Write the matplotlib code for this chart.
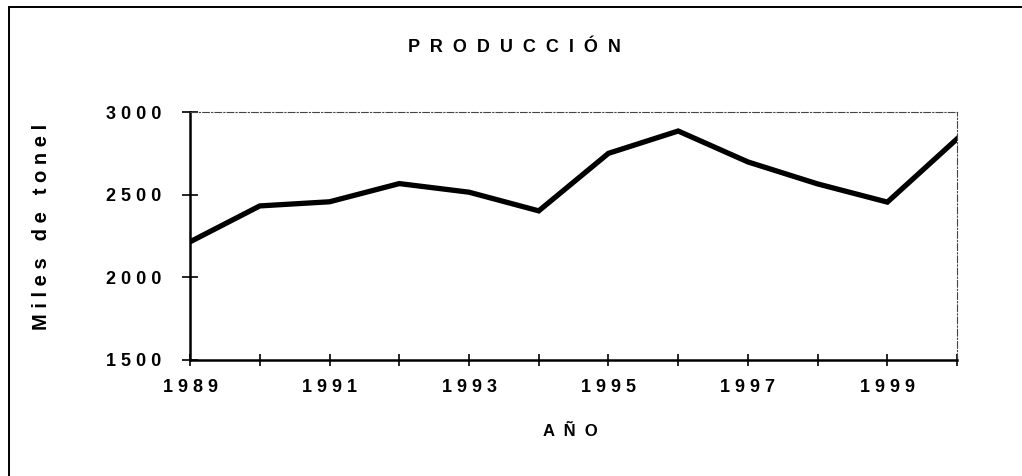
import matplotlib
matplotlib.use('Agg')
import matplotlib.pyplot as plt
from matplotlib.patches import Rectangle

# datos
anios = [1989, 1990, 1991, 1992, 1993, 1994, 1995, 1996, 1997, 1998, 1999, 2000]
produccion = [2215, 2432, 2457, 2567, 2515, 2402, 2750, 2885, 2698, 2565, 2455, 2838]
ticks_y = [1500, 2000, 2500, 3000]
etiquetas_x = [1989, 1991, 1993, 1995, 1997, 1999]


def espaciar(texto, sep=' ', sep_palabra='  '):
    # separa letras como en el original
    palabras = texto.split(' ')
    return sep_palabra.join(sep.join(list(p)) for p in palabras)


plt.rcParams['font.family'] = ['Liberation Sans', 'DejaVu Sans']

fig = plt.figure(figsize=(10.22, 4.76), dpi=100)
ax = fig.add_axes([0.186, 0.2437, 0.7505, 0.521])

ax.plot(anios, produccion, color='black', linewidth=3.8, solid_joinstyle='miter')

ax.set_xlim(1989, 2000)
ax.set_ylim(1500, 3000)
ax.set_yticks(ticks_y)
ax.set_yticklabels([espaciar(str(v)) for v in ticks_y], fontsize=13, fontweight='bold')
ax.set_xticks(anios)
ax.set_xticklabels([espaciar(str(a)) if a in etiquetas_x else '' for a in anios],
                   fontsize=13, fontweight='bold')
ax.tick_params(axis='x', direction='inout', length=9, width=1.2, color='black', pad=9)
ax.tick_params(axis='y', direction='inout', length=12, width=1.2, color='black', pad=15)

for lado in ['left', 'bottom']:
    ax.spines[lado].set_linewidth(1.8)
for lado in ['top', 'right']:
    ax.spines[lado].set_linewidth(0.8)
    ax.spines[lado].set_linestyle((0, (6, 2, 1, 2)))
    ax.spines[lado].set_color('#444444')

fig.text(0.503, 0.901, espaciar('PRODUCCIÓN', sep='  '), ha='center', va='center',
         fontsize=13, fontweight='bold')
fig.text(0.558, 0.094, espaciar('AÑO', sep='  '), ha='center', va='center',
         fontsize=12, fontweight='bold')
fig.text(0.041, 0.523, espaciar('Miles de tonel', sep_palabra='   '), ha='center', va='center',
         rotation=90, fontsize=14.5, fontweight='bold')

# marco exterior
fig.patches.append(Rectangle((0.0088, -0.05), 1.1, 1.035, transform=fig.transFigure,
                             fill=False, edgecolor='black', linewidth=1.4))

fig.savefig('out.png', dpi=100)
